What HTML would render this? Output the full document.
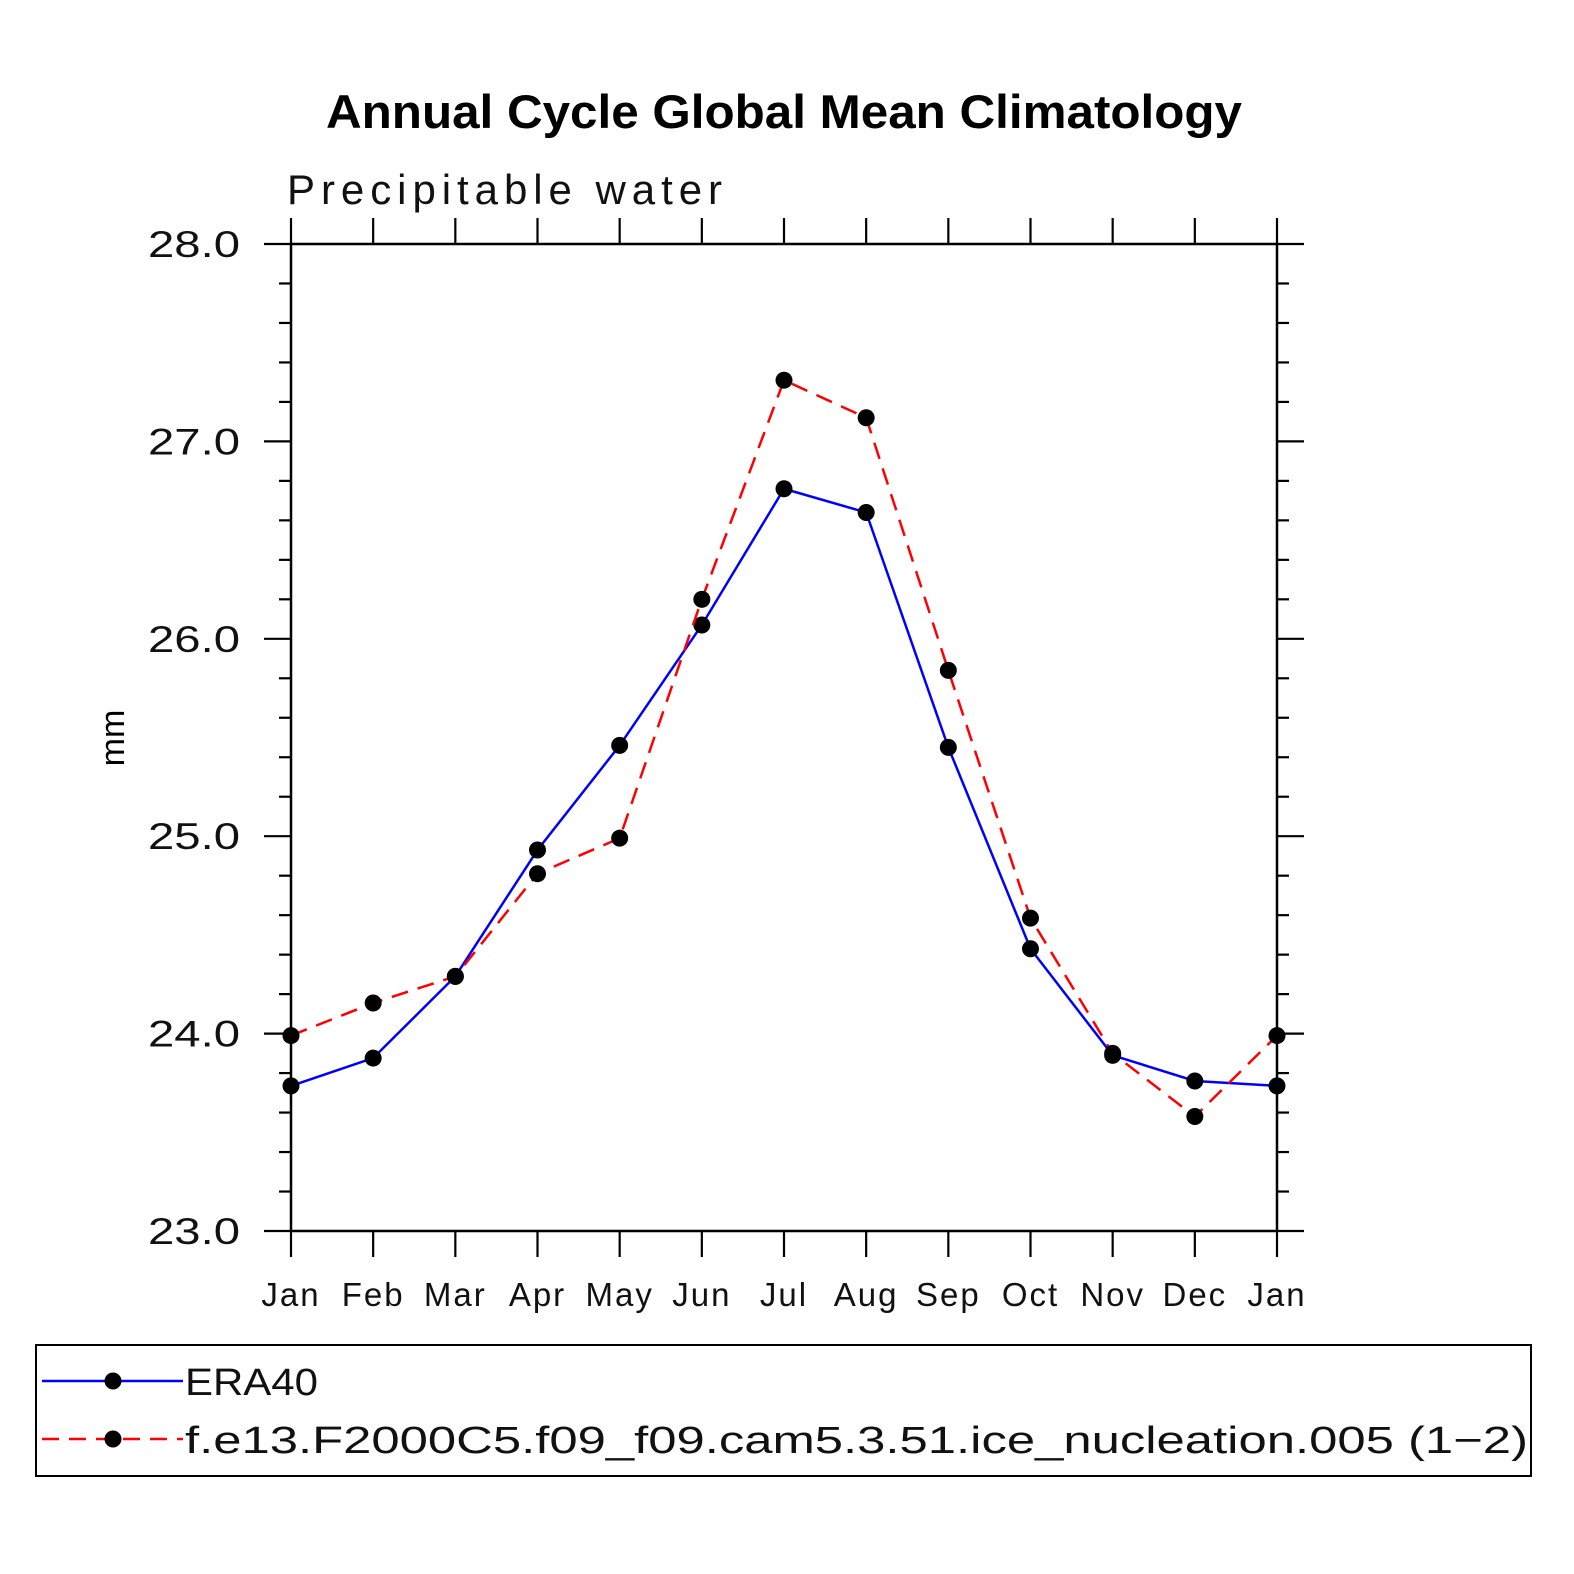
<!DOCTYPE html>
<html><head><meta charset="utf-8"><style>
html,body{margin:0;padding:0;background:#fff;}
svg{display:block;}
text{font-family:"Liberation Sans",sans-serif;}
</style></head><body>
<svg id="chart" width="1574" height="1574" viewBox="0 0 1574 1574" xmlns="http://www.w3.org/2000/svg">
<rect width="1574" height="1574" fill="#fff"/>
<text x="326" y="128" textLength="916" lengthAdjust="spacingAndGlyphs" font-size="47" font-weight="bold">Annual Cycle Global Mean Climatology</text>
<text x="287" y="204" textLength="435" lengthAdjust="spacing" font-size="42" font-weight="300" fill="#111">Precipitable water</text>
<text transform="translate(124,738) rotate(-90)" text-anchor="middle" font-size="34">mm</text>
<g id="axes"></g>
<g id="series"></g>
<g>
<rect x="36" y="1345" width="1495" height="131" fill="none" stroke="#000" stroke-width="2"/>
<g>
<line x1="42" y1="1381" x2="183" y2="1381" stroke="#0000ff" stroke-width="2.5"/>
<circle cx="113" cy="1381" r="8.5" fill="#000"/>
<text x="185" y="1395" textLength="133" lengthAdjust="spacingAndGlyphs" font-size="38" fill="#111">ERA40</text>
</g>
<g>
<line x1="42" y1="1439" x2="183" y2="1439" stroke="#ff0000" stroke-width="2.5" stroke-dasharray="17,10"/>
<circle cx="113" cy="1439" r="8.5" fill="#000"/>
<text x="185" y="1453" textLength="1343" lengthAdjust="spacingAndGlyphs" font-size="38" fill="#111">f.e13.F2000C5.f09_f09.cam5.3.51.ice_nucleation.005 (1−2)</text>
</g>
</g>
</svg>
<script>
const months = ["Jan","Feb","Mar","Apr","May","Jun","Jul","Aug","Sep","Oct","Nov","Dec","Jan"];
const era40 = [23.735,23.876,24.29,24.93,25.46,26.07,26.76,26.64,25.45,24.43,23.89,23.76,23.735];
const model = [23.99,24.155,24.29,24.81,24.99,26.20,27.31,27.12,25.84,24.585,23.90,23.58,23.99];
const yTicks = ["23.0","24.0","25.0","26.0","27.0","28.0"];
const NS="http://www.w3.org/2000/svg";
const X0=291,X1=1277,Y0=1231,Y1=244,YMIN=23,YMAX=28;
const xs=i=>X0+(X1-X0)*i/(months.length-1);
const ys=v=>Y0-(v-YMIN)/(YMAX-YMIN)*(Y0-Y1);
function mk(tag,attrs,parent){const e=document.createElementNS(NS,tag);for(const k in attrs)e.setAttribute(k,attrs[k]);parent.appendChild(e);return e;}
const ax=document.getElementById('axes');
const frame=mk('rect',{x:X0,y:Y1,width:X1-X0,height:Y0-Y1,fill:'none',stroke:'#000','stroke-width':2.5},ax);


for(let v=YMIN;v<=YMAX+1e-9;v+=0.2){
  const y=ys(v);const major=Math.abs(v-Math.round(v))<1e-6;
  const L=major?27:12;
  mk('line',{x1:X0-L,y1:y,x2:X0,y2:y,stroke:'#000','stroke-width':2.2},ax);
  mk('line',{x1:X1,y1:y,x2:X1+L,y2:y,stroke:'#000','stroke-width':2.2},ax);
}
yTicks.forEach(t=>{
  const tx=mk('text',{x:148,y:ys(parseFloat(t))+13,textLength:92,lengthAdjust:'spacingAndGlyphs','font-size':37,'font-weight':300,fill:'#111'},ax);
  tx.textContent=t;
  
  
});
months.forEach((m,i)=>{
  const x=xs(i);
  mk('line',{x1:x,y1:Y0,x2:x,y2:Y0+26,stroke:'#000','stroke-width':2.2},ax);
  mk('line',{x1:x,y1:Y1-26,x2:x,y2:Y1,stroke:'#000','stroke-width':2.2},ax);
  const tx=mk('text',{x:x,y:1306,'text-anchor':'middle','font-size':33,'font-weight':300,fill:'#111','letter-spacing':2},ax);
  tx.textContent=m;
  
  
});
const sg=document.getElementById('series');
function series(vals,color,dash,name){
  const pts=vals.map((v,i)=>xs(i)+','+ys(v)).join(' ');
  const pl=mk('polyline',{points:pts,fill:'none',stroke:color,'stroke-width':2.5,'stroke-dasharray':dash},sg);
  
  
  vals.forEach((v,i)=>{
    const c=mk('circle',{cx:xs(i),cy:ys(v),r:8.5,fill:'#000'},sg);
    
    
  });
}
series(era40,'#0000ff','none','era40');
series(model,'#ff0000','17,10','model');
</script>
</body></html>
